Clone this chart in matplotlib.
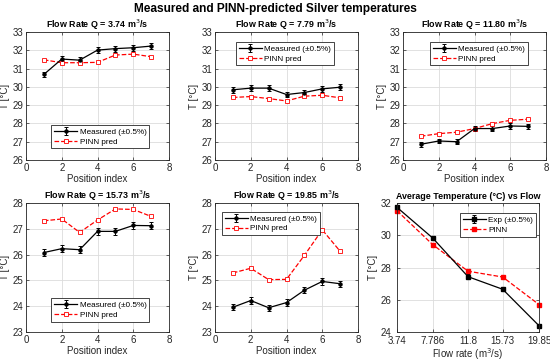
import matplotlib
matplotlib.use("Agg")
import matplotlib.pyplot as plt
import numpy as np

plt.rcParams['font.family'] = ['Liberation Sans', 'DejaVu Sans']

positions = [1, 2, 3, 4, 5, 6, 7]
flow_titles = ["3.74", "7.79", "11.80", "15.73", "19.85"]

meas_q1 = [30.68, 31.52, 31.46, 32.01, 32.09, 32.14, 32.23]
pinn_q1 = [31.48, 31.32, 31.32, 31.34, 31.74, 31.79, 31.65]
meas_q2 = [29.84, 29.93, 29.93, 29.58, 29.69, 29.89, 29.98]
pinn_q2 = [29.42, 29.47, 29.36, 29.23, 29.49, 29.54, 29.40]
meas_q3 = [26.86, 27.04, 27.00, 27.72, 27.72, 27.86, 27.84]
pinn_q3 = [27.30, 27.44, 27.52, 27.72, 27.99, 28.17, 28.23]
meas_q4 = [26.08, 26.23, 26.19, 26.90, 26.90, 27.13, 27.12]
pinn_q4 = [27.31, 27.38, 26.86, 27.34, 27.77, 27.75, 27.48]
meas_q5 = [23.96, 24.22, 23.94, 24.14, 24.62, 24.96, 24.87]
pinn_q5 = [25.29, 25.47, 25.03, 25.04, 25.97, 26.96, 26.13]

flow_rates = [3.74, 7.786, 11.8, 15.73, 19.85]
flow_tick_labels = ["3.74", "7.786", "11.8", "15.73", "19.85"]
avg_exp = [31.73, 29.83, 27.43, 26.65, 24.39]
avg_pinn = [31.52, 29.42, 27.77, 27.41, 25.70]

W, H = 550, 361
fig = plt.figure(figsize=(W / 100, H / 100), dpi=100)

axcol = '#262626'
fs = 7
tfs = 6.4
lfs = 5.9

def style(ax):
    ax.grid(True, color='#dcdcdc', linewidth=0.6)
    ax.set_axisbelow(True)
    for s in ax.spines.values():
        s.set_color(axcol)
        s.set_linewidth(0.6)
    ax.tick_params(direction='in', length=2, width=0.5, colors=axcol,
                   labelsize=fs, top=True, right=True, pad=2)

def box(l, t, r, b):
    return [l / W, 1 - b / H, (r - l) / W, (b - t) / H]

def add_legend(ax, **kw):
    h, l = ax.get_legend_handles_labels()
    order = sorted(range(len(l)), key=lambda k: 0 if l[k].startswith(('Measured', 'Exp')) else 1)
    lg = ax.legend([h[k] for k in order], [l[k] for k in order], fontsize=lfs,
                   frameon=True, fancybox=False, borderpad=0.35,
                   handlelength=2.8, handletextpad=0.3, labelspacing=0.25,
                   borderaxespad=0, framealpha=1, **kw)
    lg.get_frame().set_edgecolor(axcol)
    lg.get_frame().set_linewidth(0.6)

rects = [box(26, 32, 169, 160), box(215, 32, 358, 160), box(403, 32, 546, 160),
         box(26, 203, 169, 332), box(215, 203, 358, 332)]
meas = [meas_q1, meas_q2, meas_q3, meas_q4, meas_q5]
pinn = [pinn_q1, pinn_q2, pinn_q3, pinn_q4, pinn_q5]
ylims = [(26, 33), (26, 33), (26, 33), (23, 28), (23, 28)]
leg_kw = [
    dict(loc='lower center', bbox_to_anchor=(0.52, 0.09)),
    dict(loc='upper center', bbox_to_anchor=(0.49, 0.92)),
    dict(loc='upper center', bbox_to_anchor=(0.53, 0.92)),
    dict(loc='lower center', bbox_to_anchor=(0.52, 0.08)),
    dict(loc='upper left', bbox_to_anchor=(0.05, 0.93)),
]

for i in range(5):
    ax = fig.add_axes(rects[i])
    m = np.array(meas[i])
    ax.errorbar(positions, m, yerr=0.005 * m, color='black', lw=0.9,
                marker='o', ms=2.2, mfc='black', capsize=1.6, elinewidth=0.7,
                capthick=0.7, label='Measured (±0.5%)')
    ax.plot(positions, pinn[i], color='red', ls='--', lw=0.9, marker='s',
            ms=3.2, mfc='white', mec='red', mew=0.6, label='PINN pred')
    ax.set_xlim(0, 8)
    ax.set_ylim(*ylims[i])
    ax.set_xticks([0, 2, 4, 6, 8])
    ax.set_yticks(np.arange(ylims[i][0], ylims[i][1] + 1))
    style(ax)
    ax.set_title(f"Flow Rate Q = {flow_titles[i]} m$^3$/s", fontsize=tfs,
                 fontweight='bold', pad=3)
    ax.set_xlabel('Position index', fontsize=fs, color=axcol, labelpad=1)
    ax.set_ylabel('T [°C]', fontsize=fs, color=axcol, labelpad=2)
    add_legend(ax, **leg_kw[i])

ax = fig.add_axes(box(397, 203, 539, 332))
e = np.array(avg_exp)
ax.errorbar(flow_rates, e, yerr=0.005 * e, color='black', lw=0.9, marker='s',
            ms=3, mfc='black', capsize=1.6, elinewidth=0.7, capthick=0.7,
            label='Exp (±0.5%)', clip_on=False)
ax.plot(flow_rates, avg_pinn, color='red', ls='--', lw=0.9, marker='s', ms=3,
        mfc='red', mec='red', label='PINN', clip_on=False)
ax.set_xlim(3.74, 19.85)
ax.set_ylim(24, 32)
ax.set_xticks(flow_rates)
ax.set_xticklabels(flow_tick_labels)
ax.set_yticks([24, 26, 28, 30, 32])
style(ax)
ax.tick_params(axis='x', pad=3)
ax.tick_params(axis='y', pad=4)
ax.set_title('Average Temperature (°C) vs Flow', fontsize=tfs,
             fontweight='bold', pad=3)
ax.set_xlabel('Flow rate (m$^3$/s)', fontsize=fs, color=axcol, labelpad=0)
ax.set_ylabel('T [°C]', fontsize=fs, color=axcol, labelpad=2)
add_legend(ax, loc='upper right', bbox_to_anchor=(0.98, 0.92))

fig.suptitle('Measured and PINN-predicted Silver temperatures', fontsize=8.6,
             fontweight='bold', y=0.992, va='top')

fig.savefig('out.png', dpi=100)
